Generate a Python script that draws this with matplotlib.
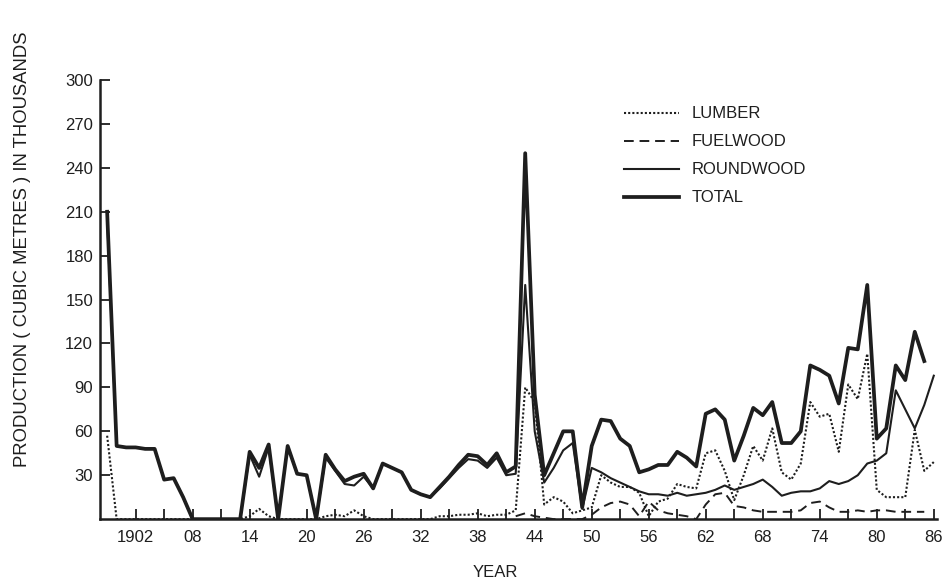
import numpy as np
import matplotlib.pyplot as plt

plt.rcParams['font.family'] = ['Liberation Sans', 'DejaVu Sans']

years = np.arange(1899, 1987)
nan = np.nan

# total production (thousand m3), 1899-1986
total = [210, 50, 49, 49, 48, 48, 27, 28, 15, 0,
         0, 0, 0, 0, 0, 46, 35, 51, 0, 50,
         31, 30, 0, 44, 34, 26, 29, 31, 21, 38,
         35, 32, 20, 17, 15, 22, 29, 37, 44, 43,
         37, 45, 32, 36, 250, 85, 30, 45, 60, 60,
         8, 50, 68, 67, 55, 50, 32, 34, 37, 37,
         46, 42, 36, 72, 75, 68, 40, 57, 76, 71,
         80, 52, 52, 60, 105, 102, 98, 79, 117, 116,
         160, 55, 62, 105, 95, 128, 108, nan]

roundwood = [205, 50, 49, 49, 48, 48, 27, 28, 15, 0,
             0, 0, 0, 0, 0, 44, 29, 49, 0, 50,
             31, 30, 0, 42, 33, 24, 23, 29, 21, 38,
             35, 32, 20, 17, 15, 21, 28, 35, 41, 40,
             35, 42, 30, 31, 160, 60, 25, 35, 47, 52,
             7, 35, 32, 28, 25, 22, 19, 17, 17, 16,
             18, 16, 17, 18, 20, 23, 20, 22, 24, 27,
             22, 16, 18, 19, 19, 21, 26, 24, 26, 30,
             38, 40, 45, 88, 75, 62, 78, 98]

lumber = [57, 0, 0, 0, 0, 0, 0, 0, 0, 0,
          0, 0, 0, 0, 0, 2, 7, 2, 0, 0,
          0, 0, 0, 2, 3, 2, 6, 2, 0, 0,
          0, 0, 0, 0, 0, 2, 2, 3, 3, 4,
          2, 3, 3, 6, 90, 80, 10, 15, 12, 4,
          6, 8, 30, 25, 22, 22, 18, 2, 12, 14,
          24, 22, 21, 45, 47, 33, 13, 30, 50, 40,
          62, 32, 27, 38, 80, 70, 72, 46, 92, 82,
          113, 20, 15, 15, 15, 61, 33, 39]

fuelwood = [nan] * 43 + [2, 4, 2, 1, 0, 0, 0, 0, 3, 8,
                         11, 12, 10, 2, 12, 6, 4, 3, 2, 0,
                         10, 17, 18, 9, 8, 6, 5, 5, 5, 5,
                         6, 11, 12, 8, 5, 5, 6, 5, 6, 6,
                         5, 5, 5, 5, nan]

ink = '#1e1e1e'
fs = 12

fig = plt.figure(figsize=(9.48, 5.82), dpi=100)
ax = fig.add_axes([0.1055, 0.108, 0.883, 0.7545])

ax.plot(years, lumber, color=ink, lw=1.5, ls=(0, (1, 1)), label='LUMBER')
ax.plot(years, fuelwood, color=ink, lw=1.4, ls=(0, (5, 3)), label='FUELWOOD')
ax.plot(years, roundwood, color=ink, lw=1.5, label='ROUNDWOOD')
ax.plot(years, total, color=ink, lw=2.7, label='TOTAL')

ax.set_xlim(1898.25, 1986.35)
ax.set_ylim(0, 300)

xt = np.arange(1902, 1987, 3)
xl = ['1902' if y == 1902 else (f'{y % 100:02d}' if (y - 1902) % 6 == 0 else '') for y in xt]
ax.set_xticks(xt)
ax.set_xticklabels(xl)
ax.set_yticks(np.arange(30, 301, 30))

for s in ['top', 'right']:
    ax.spines[s].set_visible(False)
for s in ['left', 'bottom']:
    ax.spines[s].set_color(ink)
    ax.spines[s].set_linewidth(1.8)

ax.tick_params(axis='both', direction='in', length=7, width=1.3, color=ink,
               labelsize=fs, labelcolor=ink)
ax.tick_params(axis='y', pad=5)
ax.tick_params(axis='x', pad=8)

fig.text(0.024, 0.572, 'PRODUCTION ( CUBIC METRES ) IN THOUSANDS', rotation=90,
         ha='center', va='center', fontsize=13.3, color=ink)
fig.text(0.522, 0.017, 'YEAR', ha='center', va='center', fontsize=fs, color=ink)

ax.legend(loc='upper left', bbox_to_anchor=(0.642, 0.843), bbox_transform=fig.transFigure,
          frameon=False, fontsize=fs, handlelength=3.3, handletextpad=0.8,
          labelspacing=0.78, labelcolor=ink)

fig.savefig('out.png', dpi=100, facecolor='white')
